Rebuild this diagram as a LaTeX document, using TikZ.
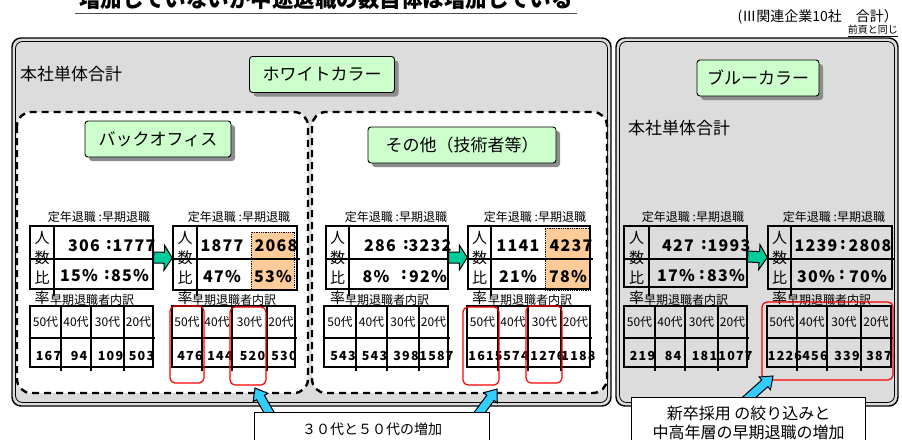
\documentclass[tikz,border=0pt]{standalone}
\usepackage{fontspec}
\setmainfont{Noto Sans CJK JP}
\usetikzlibrary{calc,fit,shadows}
\definecolor{grayfill}{HTML}{DCDCDC}
\definecolor{greenfill}{HTML}{CCFFCC}
\definecolor{orangefill}{HTML}{FFCC99}
\definecolor{tealarrow}{HTML}{00CC99}
\definecolor{bluearrow}{HTML}{33CCFF}
\definecolor{redline}{HTML}{FF0000}
\newcommand\fsz[1]{\fontsize{#1}{#1}\selectfont}

\tikzset{
  grayback/.style={fill=grayfill, draw=black, line width=1.4pt, rounded corners=9pt},
  grayinner/.style={draw=black, line width=0.8pt, rounded corners=7pt},
  dashpanel/.style={fill=white, draw=black, line width=2.4pt, dash pattern=on 7pt off 5pt, rounded corners=14pt},
  greenbox/.style={draw=black, line width=0.9pt, fill=greenfill, rounded corners=3pt, inner sep=0pt, minimum height=36pt, font=\fsz{17}, drop shadow={shadow xshift=4pt, shadow yshift=-4pt, fill=black!45, opacity=1}},
  tbl/.style={draw=black, line width=1.4pt, inner sep=0pt},
  tline/.style={draw=black, line width=1.4pt},
  lbl/.style={font=\fsz{12}, inner sep=0pt},
  vch/.style={font=\fsz{15}, inner sep=0pt},
  rval/.style={font=\fsz{16}\bfseries\addfontfeature{LetterSpace=8}, inner sep=0pt},
  colon/.style={font=\fsz{16}\bfseries, inner sep=0pt},
  bval/.style={font=\fsz{12.5}\bfseries\addfontfeature{LetterSpace=10}, inner sep=0pt},
  hd/.style={font=\fsz{12}, inner sep=0pt},
  orangecell/.style={fill=orangefill, draw=black, densely dotted, line width=0.8pt, inner sep=0pt},
  redbox/.style={draw=redline, line width=1.2pt, rounded corners=5pt, inner sep=0pt},
  callout/.style={draw=black, line width=1.2pt, fill=white, inner sep=0pt},
  greenarrow/.style={fill=tealarrow, draw=black, line width=1pt},
  bluearr/.style={fill=bluearrow, draw=black, line width=1pt},
  hqlabel/.style={font=\fsz{17}, inner sep=0pt, anchor=west},
}

% fat arrow: #1 style, #2 tail, #3 head, #4 half body, #5 half head, #6 head length
\newcommand\fatarrow[6]{%
  \coordinate (fah) at ($(#3)!#6!(#2)$);
  \path[#1] ($(#2)!#4!90:(#3)$) -- ($(fah)!#4!90:(#3)$) -- ($(fah)!#5!90:(#3)$) -- (#3)
    -- ($(fah)!#5!-90:(#3)$) -- ($(fah)!#4!-90:(#3)$) -- ($(#2)!#4!-90:(#3)$) -- cycle;}

% ratio table: #1 name, #2 x0, #3 x1, #4 column x, #5 bottom y
\newcommand\rtab[5]{%
  \node[tbl, fit={(#2,226) (#3,#5)}] (#1) {};
  \draw[tline] (#4,226) -- (#4,296);
  \draw[tline] (#2,259) -- (#3+3,259);
  \node[vch] (#1c1) at ({(#2+#4)/2},238) {人};
  \node[vch] (#1c2) at ({(#2+#4)/2},258) {数};
  \node[vch] (#1c3) at ({(#2+#4)/2},278) {比};
  \node[vch] (#1c4) at ({(#2+#4)/2},298) {率};}

% breakdown table: #1 name, #2 x0, #3 x1, #4 list a/b/value
\newcommand\bdtab[4]{%
  \node[tbl, fit={(#2,306) (#3,367)}] (#1) {};
  \draw[tline] (#2,338) -- (#3+2,338);
  \foreach \a/\b/\v [count=\i] in {#4} {
    \ifnum\i<4 \draw[tline] (\b,306) -- (\b,371); \fi
    \node[hd] (#1h\i) at ({(\a+\b)/2},322) {\ifcase\i\or 50代\or 40代\or 30代\or 20代\fi};
    \node[bval] (#1v\i) at ({(\a+\b)/2+3},356) {\v};
  }}

\begin{document}
\begin{tikzpicture}[x=1pt,y=-1pt]
\useasboundingbox (0,0) rectangle (902,439);

% title and notes
\node[font=\fsz{21.5}\bfseries, inner sep=0pt, anchor=base] (ttl) at (326,8) {増加していないが中途退職の数自体は増加している};
\draw[black!70, line width=0.8pt] (75,13) -- (577,13);
\node[font=\fsz{14}, inner sep=0pt, anchor=east] (src) at (898,17) {(Ⅲ関連企業10社　合計）};
\node[font=\fsz{10}, inner sep=0pt, anchor=east] (same) at (898,31) {\underline{前頁と同じ}};

% gray panels
\path[grayback] (12,38) rectangle (611,406);
\path[grayinner] (15.5,41.5) rectangle (607.5,402.5);
\path[grayback] (616,38) rectangle (898,406);
\path[grayinner] (619.5,41.5) rectangle (894.5,402.5);

% dashed white panels
\path[dashpanel] (17,112) rectangle (308,393);
\path[dashpanel] (312,112) rectangle (607,393);

% headings
\node[hqlabel] (hq1) at (20,74) {本社単体合計};
\node[hqlabel] (hq2) at (628,128) {本社単体合計};
\node[greenbox, minimum width=145pt] (white) at (322,74.5) {ホワイトカラー};
\node[greenbox, minimum width=122pt] (blue) at (758,78) {ブルーカラー};
\node[greenbox, minimum width=146pt] (back) at (158,139) {バックオフィス};
\node[greenbox, minimum width=188pt] (other) at (462,145) {その他（技術者等）};

% ===== left panel =====
\node[lbl] (Llab1) at (99,217) {定年退職 :早期退職};
\node[lbl] (Llab2) at (239,217) {定年退職 :早期退職};
\rtab{LT1}{30}{153}{54}{289}
\node[rval] (LT1a) at (84,246) {306};
\node[colon] (LT1b) at (109,245) {:};
\node[rval] (LT1c) at (134,246) {1777};
\node[rval] (LT1d) at (79,276) {15\%};
\node[colon] (LT1e) at (107,275) {:};
\node[rval] (LT1f) at (130,276) {85\%};
\node[orangecell, fit={(251,232) (294,290)}] (LT2o) {};
\rtab{LT2}{173}{297}{197}{290}
\node[rval] (LT2a) at (222,246) {1877};
\node[rval] (LT2b) at (276,246) {2068};
\node[rval] (LT2c) at (222,277) {47\%};
\node[rval] (LT2d) at (273,277) {53\%};
\fatarrow{greenarrow}{LT1.east}{LT2.west}{5.5pt}{12.5pt}{8pt}
\node[lbl] (Llab3) at (92,300) {早期退職者内訳};
\node[lbl] (Llab4) at (234,300) {早期退職者内訳};
\bdtab{LB1}{30}{153}{30/61/167,61/91/94,91/124/109,124/153/503}
\bdtab{LB2}{172}{295}{172/202/476,202/232/144,232/267/520,267/295/530}

% ===== middle panel =====
\node[lbl] (Mlab1) at (396,217) {定年退職 :早期退職};
\node[lbl] (Mlab2) at (535,217) {定年退職 :早期退職};
\rtab{MT1}{326}{448}{349}{289}
\node[rval] (MT1a) at (380,246) {286};
\node[colon] (MT1b) at (406,245) {:};
\node[rval] (MT1c) at (430,246) {3232};
\node[rval] (MT1d) at (376,277) {8\%};
\node[colon] (MT1e) at (404,275) {:};
\node[rval] (MT1f) at (428,277) {92\%};
\node[orangecell, fit={(545,228) (590,290)}] (MT2o) {};
\rtab{MT2}{468}{590}{491}{289}
\node[rval] (MT2a) at (518,246) {1141};
\node[rval] (MT2b) at (571,246) {4237};
\node[rval] (MT2c) at (518,277) {21\%};
\node[rval] (MT2d) at (568,277) {78\%};
\fatarrow{greenarrow}{MT1.east}{MT2.west}{5.5pt}{12.5pt}{8pt}
\node[lbl] (Mlab3) at (387,300) {早期退職者内訳};
\node[lbl] (Mlab4) at (530,300) {早期退職者内訳};
\bdtab{MB1}{324}{448}{324/356/543,356/387/543,387/419/398,419/448/1587}
\bdtab{MB2}{467}{590}{467/498/1615,498/528/574,528/561/1276,561/590/1188}

% ===== right panel =====
\node[lbl] (Rlab1) at (693,217) {定年退職 :早期退職};
\node[lbl] (Rlab2) at (834,217) {定年退職 :早期退職};
\rtab{RT1}{624}{747}{649}{287}
\node[rval] (RT1a) at (678,246) {427};
\node[colon] (RT1b) at (704,245) {:};
\node[rval] (RT1c) at (729,246) {1993};
\node[rval] (RT1d) at (676,276) {17\%};
\node[colon] (RT1e) at (702,275) {:};
\node[rval] (RT1f) at (726,276) {83\%};
\rtab{RT2}{768}{892}{791}{289}
\node[rval] (RT2a) at (816,246) {1239};
\node[colon] (RT2b) at (843,245) {:};
\node[rval] (RT2c) at (870,246) {2808};
\node[rval] (RT2d) at (816,277) {30\%};
\node[colon] (RT2e) at (842,275) {:};
\node[rval] (RT2f) at (868,277) {70\%};
\fatarrow{greenarrow}{RT1.east}{RT2.west}{5.5pt}{12.5pt}{8pt}
\node[lbl] (Rlab3) at (686,300) {早期退職者内訳};
\node[lbl] (Rlab4) at (829,300) {早期退職者内訳};
\bdtab{RB1}{624}{747}{624/655/219,655/685/84,685/718/181,718/747/1077}
\bdtab{RB2}{767}{891}{767/797/1226,797/827/456,827/861/339,861/891/387}

% red highlight boxes
\node[redbox, fit={(170,306) (204,383)}] (red1) {};
\node[redbox, fit={(230,307) (266,385)}] (red2) {};
\node[redbox, fit={(463,307) (499,385)}] (red3) {};
\node[redbox, fit={(526,306) (562,383)}] (red4) {};
\node[redbox, fit={(762,302) (893,380)}] (red5) {};

% blue arrows
\coordinate (ba1t) at (271,416);
\coordinate (ba1h) at (255,388);
\coordinate (ba2t) at (477,416);
\coordinate (ba2h) at (497,389);
\coordinate (ba3t) at (745,401);
\coordinate (ba3h) at (773,376);
\fatarrow{bluearr}{ba1t}{ba1h}{4.5pt}{8.5pt}{11pt}
\fatarrow{bluearr}{ba2t}{ba2h}{4.5pt}{8.5pt}{11pt}
\fatarrow{bluearr}{ba3t}{ba3h}{4.5pt}{8.5pt}{11pt}

% callouts
\node[callout, anchor=north west, minimum width=235pt, minimum height=34pt, font=\fsz{14}] (call1) at (254,412) {３０代と５０代の増加};
\node[callout, anchor=north west, minimum width=234pt, minimum height=50pt, align=center, font=\fontsize{16}{19}\selectfont] (call2) at (631,397) {新卒採用 の絞り込みと\\中高年層の早期退職の増加};
\end{tikzpicture}
\end{document}
